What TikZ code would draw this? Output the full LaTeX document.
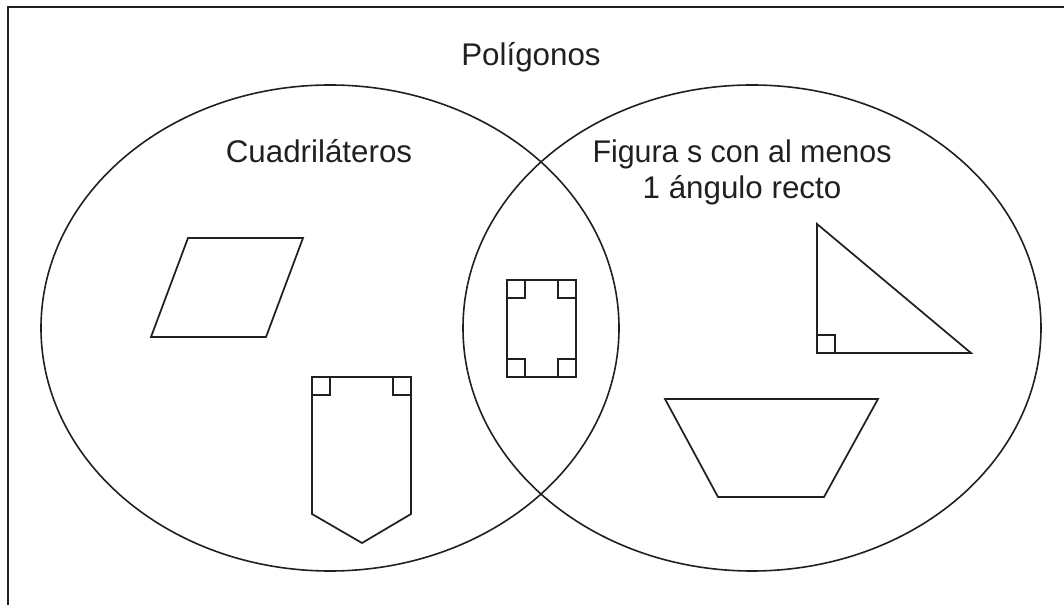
\documentclass[tikz,border=0pt]{standalone}
\usepackage{fontspec}
\setmainfont{Liberation Sans}
\usepackage{tikz}
\usetikzlibrary{positioning}
\definecolor{ink}{HTML}{231F20}

\begin{document}
\begin{tikzpicture}[x=0.75pt, y=-0.75pt, line join=miter, draw=ink,
    lbl/.style={font=\fontsize{23.5}{28}\selectfont, text=ink, inner sep=0pt, text height=17pt, text depth=6pt},
    venn/.style={draw=ink, line width=1.2pt},
    fig/.style={draw=ink, line width=1.3pt},
    recto/.style={draw=ink, line width=1.7pt}]
      \useasboundingbox (0,0) rectangle (1064,605);
      % marco
      \draw [ink, line width=1.8pt] (8,605) -- (8,7) -- (1064,7);
      % conjuntos
      \draw [venn] (330,328) ellipse [x radius=289, y radius=243];
      \draw [venn] (752,328) ellipse [x radius=289, y radius=243];
      \node [lbl] (poli) at (531,58) {Polígonos};
      \node [lbl] (cuad) at (319,155) {Cuadriláteros};
      \node [lbl, xscale=0.97] (fig1) at (742,155) {Figura s con al menos};
      \node [lbl] (fig2) [below=4pt of fig1] {1 ángulo recto};
      % figuras
      \draw [fig] (188,238) -- (303,238) -- (266,337) -- (151,337) -- cycle;
      \draw [fig] (312,377) -- (411,377) -- (411,514) -- (362,543) -- (312,514) -- cycle;
      \draw [recto] (312,377) rectangle ++(18,18) (393,377) rectangle ++(18,18);
      \draw [fig] (507,280) rectangle (576,377);
      \foreach \x/\y in {507/280, 558/280, 507/359, 558/359}
        \draw [recto] (\x,\y) rectangle ++(18,18);
      \draw [fig] (817,224) -- (817,353) -- (971,353) -- cycle;
      \draw [recto] (817,335) rectangle ++(18,18);
      \draw [fig] (665,399) -- (878,399) -- (824,497) -- (718,497) -- cycle;
  \end{tikzpicture}
\end{document}
